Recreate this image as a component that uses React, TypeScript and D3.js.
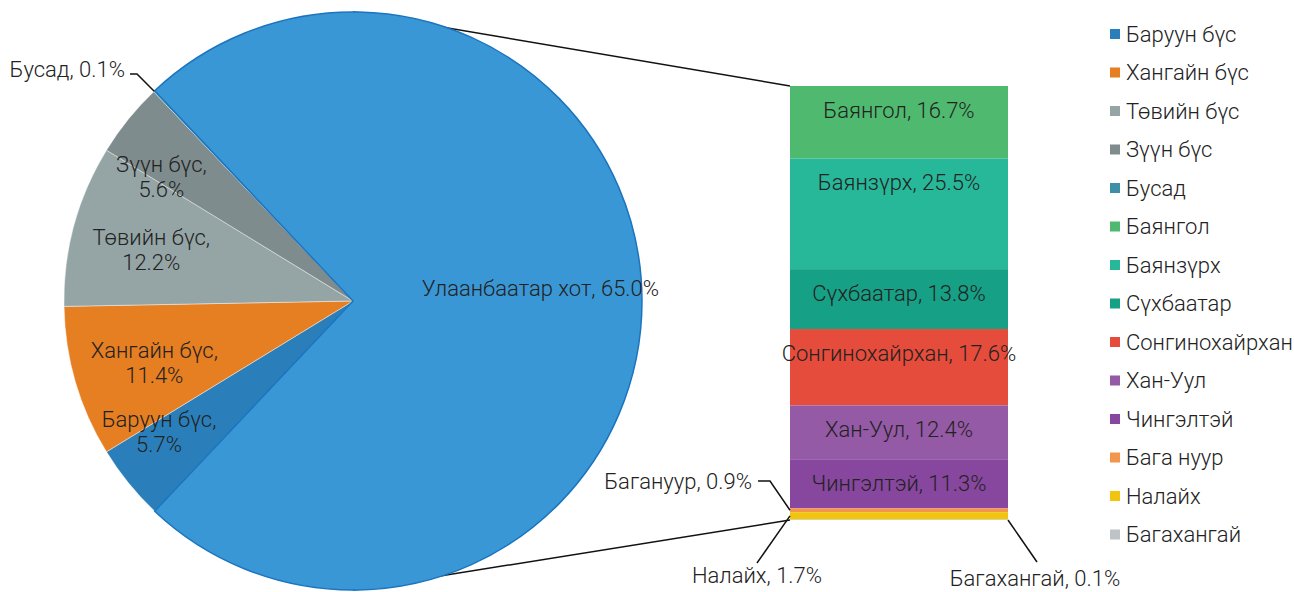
import { useMemo } from "react";
import * as d3 from "d3";

// first level: regions of the country (share of total, %)
const regionNames = ["Баруун бүс", "Хангайн бүс", "Төвийн бүс", "Зүүн бүс", "Бусад"];
const regionShare = [5.7, 11.4, 12.2, 5.6, 0.1];
const ubName = "Улаанбаатар хот";
const ubShare = 65.0;

// second level: districts of Ulaanbaatar (share within UB, %)
const districtNames = ["Баянгол", "Баянзүрх", "Сүхбаатар", "Сонгинохайрхан", "Хан-Уул", "Чингэлтэй", "Бага нуур", "Налайх", "Багахангай"];
const districtLabelNames = ["Баянгол", "Баянзүрх", "Сүхбаатар", "Сонгинохайрхан", "Хан-Уул", "Чингэлтэй", "Багануур", "Налайх", "Багахангай"];
const districtShare = [16.7, 25.5, 13.8, 17.6, 12.4, 11.3, 0.9, 1.7, 0.1];

const regionColors = ["#2a7fba", "#e67e22", "#95a5a6", "#7f8c8d", "#3d8fa8"];
const ubColor = "#3a97d5";
const districtColors = ["#4fba6f", "#27b899", "#16a085", "#e54c3c", "#955aa6", "#88479e", "#f4954e", "#f1c40f", "#bdc3c7"];

const W = 1294;
const H = 592;
const font = "Roboto, 'Noto Sans', sans-serif";
const textColor = "#222";

export default function App() {
  const cx = 353, cy = 301, R = 289;
  const barX0 = 790, barX1 = 1008, barY0 = 86, barY1 = 520;

  // Excel pie-of-pie: the "other" slice is the sum of the secondary values
  const pieValues = [d3.sum(districtShare), ...regionShare];
  const pieLabels = [ubName, ...regionNames];
  const pieShares = [ubShare, ...regionShare];
  const pieColors = [ubColor, ...regionColors];
  const ubAngle = (pieValues[0] / d3.sum(pieValues)) * 2 * Math.PI;
  const start = Math.PI / 2 - ubAngle / 2;

  const arcs = useMemo(
    () =>
      d3
        .pie<number>()
        .sort(null)
        .startAngle(start)
        .endAngle(start + 2 * Math.PI)(pieValues),
    []
  );
  const arc = d3.arc<d3.PieArcDatum<number>>().innerRadius(0).outerRadius(R);

  // label placement (radius factor, angle shift in degrees, d3 clockwise)
  const labelLayout = [
    { r: 0.65, shift: -4 },
    { r: 0.81, shift: 5 },
    { r: 0.72, shift: -1 },
    { r: 0.72, shift: -1 },
    { r: 0.79, shift: -6 },
    { r: 1, shift: 0 },
  ];
  const polar = (a: number, r: number) => [cx + r * Math.sin(a), cy - r * Math.cos(a)];

  const y = d3.scaleLinear().domain([0, d3.sum(districtShare)]).range([barY0, barY1]);
  const cum = Array.from(d3.cumsum(districtShare));
  const segs = districtShare.map((v, i) => ({
    name: districtLabelNames[i],
    v,
    y0: y(cum[i] - v),
    y1: y(cum[i]),
    color: districtColors[i],
  }));

  const legendNames = [...regionNames, ...districtNames];
  const legendColors = [...regionColors, ...districtColors];

  const busad = arcs[5];
  const busadPt = polar((busad.startAngle + busad.endAngle) / 2, R);

  const txt = { fontFamily: font, fontSize: 22, fontWeight: 300, fill: textColor } as const;

  return (
    <svg width={W} height={H} style={{ position: "absolute", left: 0, top: 0, background: "#fff" }}>
      {/* connector lines */}
      <line x1={cx} y1={cy - R} x2={barX0} y2={barY0} stroke="#111" strokeWidth={1.5} />
      <line x1={cx} y1={cy + R} x2={barX0} y2={barY1} stroke="#111" strokeWidth={1.5} />

      {/* pie */}
      <g transform={`translate(${cx},${cy})`}>
        {arcs.slice(1).map((a, i) => (
          <path key={i} d={arc(a) || ""} fill={pieColors[i + 1]} stroke="#fff" strokeWidth={0.6} strokeOpacity={0.7} />
        ))}
        <path d={arc(arcs[0]) || ""} fill={ubColor} stroke="#1b74c0" strokeWidth={1.5} strokeLinejoin="round" />
      </g>

      {/* pie labels */}
      {arcs.slice(0, 5).map((a, i) => {
        const lay = labelLayout[i];
        const ang = (a.startAngle + a.endAngle) / 2 + (lay.shift * Math.PI) / 180;
        const [lx, ly] = polar(ang, R * lay.r);
        const val = `${pieShares[i].toFixed(1)}%`;
        if (i === 0)
          return (
            <text key={i} x={lx} y={ly} dy="0.35em" textAnchor="middle" {...txt}>
              {`${pieLabels[i]}, ${val}`}
            </text>
          );
        return (
          <text key={i} x={lx} y={ly} textAnchor="middle" {...txt}>
            <tspan x={lx} y={ly - 12.5} dy="0.35em">{`${pieLabels[i]},`}</tspan>
            <tspan x={lx} y={ly + 12.5} dy="0.35em">{val}</tspan>
          </text>
        );
      })}
      <path d={`M130,74 H137 L${busadPt[0]},${busadPt[1]}`} fill="none" stroke="#111" strokeWidth={1.5} />
      <text x={125} y={69} dy="0.35em" textAnchor="end" {...txt}>
        {`${pieLabels[5]}, ${pieShares[5].toFixed(1)}%`}
      </text>

      {/* stacked bar */}
      {segs.map((s, i) => (
        <rect key={i} x={barX0} y={s.y0} width={barX1 - barX0} height={s.y1 - s.y0} fill={s.color} />
      ))}
      {segs.slice(0, 6).map((s, i) => (
        <text key={i} x={(barX0 + barX1) / 2} y={s.y0 + 24} dy="0.35em" textAnchor="middle" {...txt}>
          {`${s.name}, ${s.v.toFixed(1)}%`}
        </text>
      ))}

      {/* small segment labels */}
      <path d={`M758,481 H770 L${barX0},${(segs[6].y0 + segs[6].y1) / 2}`} fill="none" stroke="#111" strokeWidth={1.5} />
      <text x={752} y={481} dy="0.35em" textAnchor="end" {...txt}>
        {`${segs[6].name}, ${segs[6].v.toFixed(1)}%`}
      </text>
      <path d={`M${barX0},${(segs[7].y0 + segs[7].y1) / 2} L757,563`} fill="none" stroke="#111" strokeWidth={1.5} />
      <text x={757} y={575} dy="0.35em" textAnchor="middle" {...txt}>
        {`${segs[7].name}, ${segs[7].v.toFixed(1)}%`}
      </text>
      <path d={`M${barX1},${segs[8].y1} L1037,562`} fill="none" stroke="#111" strokeWidth={1.5} />
      <text x={1035} y={578} dy="0.35em" textAnchor="middle" {...txt}>
        {`${segs[8].name}, ${segs[8].v.toFixed(1)}%`}
      </text>

      {/* legend */}
      {legendNames.map((n, i) => {
        const ly = 34 + i * 38.5;
        return (
          <g key={n}>
            <rect x={1110} y={ly - 5} width={10} height={10} fill={legendColors[i]} />
            <text x={1126} y={ly} dy="0.35em" {...txt}>
              {n}
            </text>
          </g>
        );
      })}
    </svg>
  );
}
